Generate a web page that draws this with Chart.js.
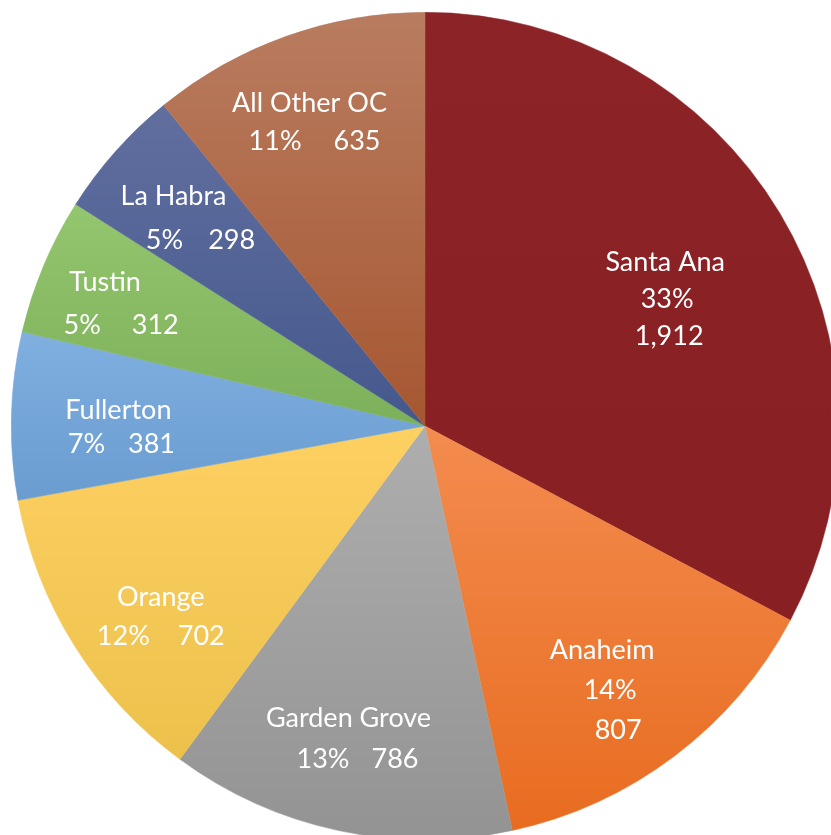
<!DOCTYPE html>
<html>
<head>
<meta charset="utf-8">
<script src="https://cdn.jsdelivr.net/npm/chart.js@4"></script>
<style>
  html, body { margin: 0; padding: 0; background: #fff; overflow: hidden; width: 831px; height: 835px; }
  #wrap { position: absolute; left: 11px; top: 12px; width: 828px; height: 828px; }
</style>
</head>
<body>
<div id="wrap"><canvas id="pie-chart"></canvas></div>
<script>
const cities = ["Santa Ana", "Anaheim", "Garden Grove", "Orange", "Fullerton", "Tustin", "La Habra", "All Other OC"];
const counts = [1912, 807, 786, 702, 381, 312, 298, 635];
const percents = ["33%", "14%", "13%", "12%", "7%", "5%", "5%", "11%"];
const countLabels = ["1,912", "807", "786", "702", "381", "312", "298", "635"];

// top / bottom colours of each slice gradient
const topColors = ["#8c2327", "#f38c4f", "#aeaeae", "#fdd062", "#80afe0", "#94c56f", "#616f9f", "#b97c60"];
const bottomColors = ["#881f23", "#e86c20", "#939393", "#ecc14b", "#6a9cd0", "#7db05a", "#45588d", "#a65731"];

// label layout (Excel "best fit" placement, tweaked per slice)
const labelRadius = [0.66, 0.78, 0.775, 0.787, 0.737, 0.809, 0.763, 0.783];
const labelTurn = [3.4, 2.1, 0.9, -3.8, -1.6, -1.4, -0.5, -0.8]; // degrees
const lineGap = [37, 40, 41, 39, 34, 43, 44, 38];
const lineShift = [2, 8, 9, 0, 3, 16, 27, 5];
const pairGap = [0, 0, 22, 28, 23, 31, 25, 32]; // px between "x%" and count
const threeLine = [true, true, false, false, false, false, false, false];

const total = counts.reduce((a, b) => a + b, 0);

function sliceGeom(chart, i) {
  const area = chart.chartArea;
  const cx = (area.left + area.right) / 2;
  const cy = (area.top + area.bottom) / 2;
  const r = Math.min(area.right - area.left, area.bottom - area.top) / 2;
  let cum = 0;
  for (let k = 0; k < i; k++) cum += counts[k];
  const a0 = -Math.PI / 2 + (2 * Math.PI * cum) / total;
  const a1 = a0 + (2 * Math.PI * counts[i]) / total;
  return { cx, cy, r, a0, a1 };
}

function sliceFill(context) {
  const chart = context.chart;
  const i = context.dataIndex;
  if (!chart.chartArea || i === undefined) return topColors[i] || "#999";
  const g = sliceGeom(chart, i);
  const ys = [g.cy, g.cy + g.r * Math.sin(g.a0), g.cy + g.r * Math.sin(g.a1)];
  for (let k = -1; k <= 3; k++) {
    const a = Math.PI / 2 + k * Math.PI;
    if (a > g.a0 && a < g.a1) ys.push(g.cy + g.r * Math.sin(a));
  }
  const y0 = Math.min(...ys);
  const y1 = Math.max(...ys);
  const grad = chart.ctx.createLinearGradient(0, y0, 0, y1);
  grad.addColorStop(0, topColors[i]);
  grad.addColorStop(1, bottomColors[i]);
  return grad;
}

const sliceLabels = {
  id: "sliceLabels",
  afterDatasetsDraw(chart) {
    const ctx = chart.ctx;
    ctx.save();
    ctx.fillStyle = "#ffffff";
    ctx.font = "27px Lato";
    ctx.textBaseline = "middle";
    cities.forEach((name, i) => {
      const g = sliceGeom(chart, i);
      const ang = (g.a0 + g.a1) / 2 + (labelTurn[i] * Math.PI) / 180;
      const x = g.cx + Math.cos(ang) * g.r * labelRadius[i];
      const y = g.cy + Math.sin(ang) * g.r * labelRadius[i];
      const lines = threeLine[i]
        ? [[name], [percents[i]], [countLabels[i]]]
        : [[name], [percents[i], countLabels[i]]];
      const n = lines.length - 1;
      lines.forEach((parts, k) => {
        const lx = x + (k - n / 2) * lineShift[i];
        const ly = y + (k - n / 2) * lineGap[i];
        if (parts.length === 1) {
          ctx.textAlign = "center";
          ctx.fillText(parts[0], lx, ly);
        } else {
          const w0 = ctx.measureText(parts[0]).width;
          const w1 = ctx.measureText(parts[1]).width;
          const left = lx - (w0 + pairGap[i] + w1) / 2;
          ctx.textAlign = "left";
          ctx.fillText(parts[0], left, ly);
          ctx.fillText(parts[1], left + w0 + pairGap[i], ly);
        }
      });
    });
    ctx.restore();
  },
};

const ctx = document.getElementById("pie-chart").getContext("2d");
new Chart(ctx, {
  type: "pie",
  data: {
    labels: cities,
    datasets: [
      {
        data: counts,
        backgroundColor: sliceFill,
        borderColor: sliceFill,
        borderWidth: 0.5,
      },
    ],
  },
  options: {
    responsive: true,
    maintainAspectRatio: false,
    animation: false,
    layout: { padding: 0 },
    plugins: {
      legend: { display: false },
      tooltip: { enabled: false },
    },
  },
  plugins: [sliceLabels],
});
</script>
</body>
</html>
